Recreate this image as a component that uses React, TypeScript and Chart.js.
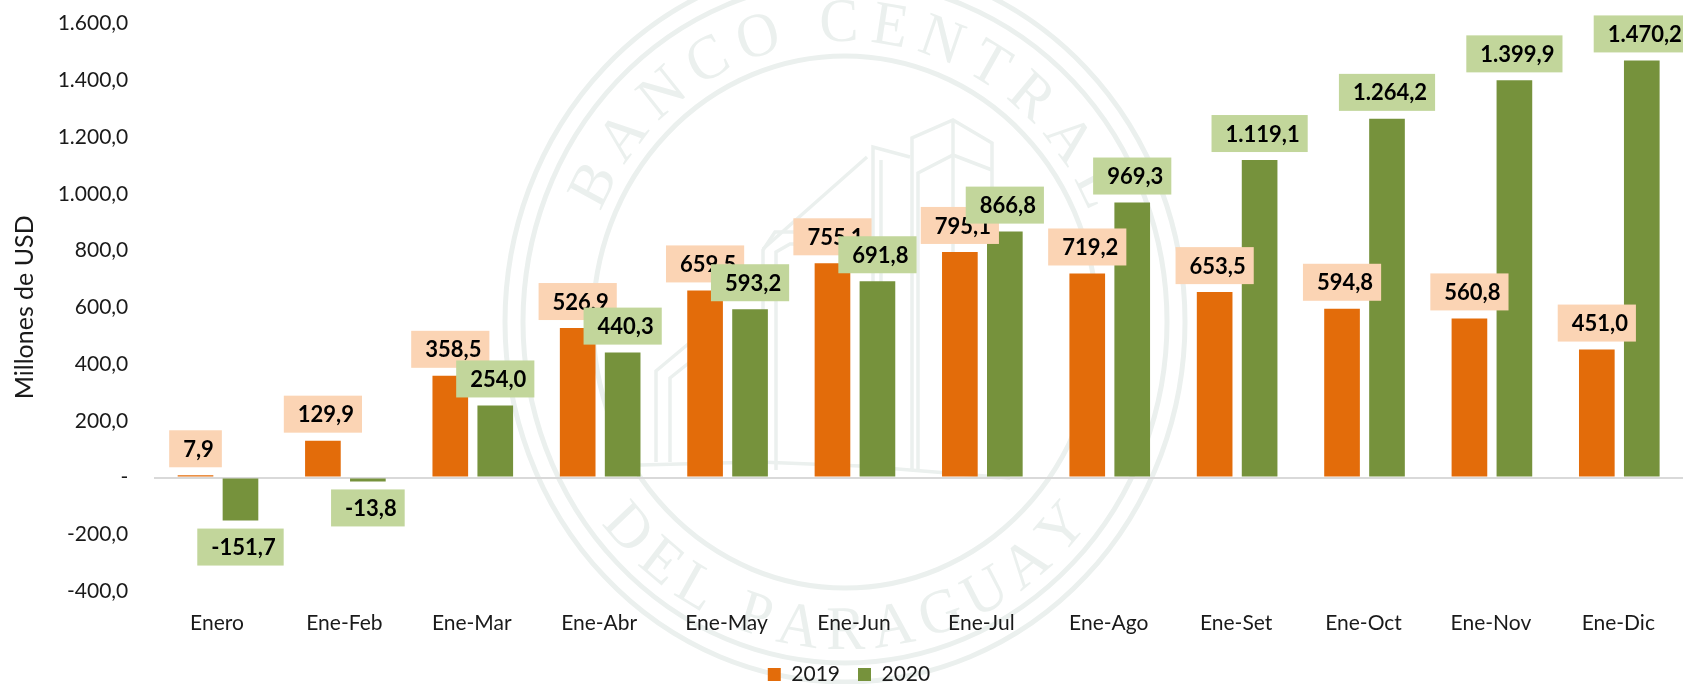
import React, { useEffect, useRef } from "react";
import { Chart, registerables } from "chart.js";

Chart.register(...registerables);

const categories = ["Enero", "Ene-Feb", "Ene-Mar", "Ene-Abr", "Ene-May", "Ene-Jun", "Ene-Jul", "Ene-Ago", "Ene-Set", "Ene-Oct", "Ene-Nov", "Ene-Dic"];
const values2019 = [7.9, 129.9, 358.5, 526.9, 659.5, 755.1, 795.1, 719.2, 653.5, 594.8, 560.8, 451.0];
const values2020 = [-151.7, -13.8, 254.0, 440.3, 593.2, 691.8, 866.8, 969.3, 1119.1, 1264.2, 1399.9, 1470.2];
const yTickLabels = ["-400,0", "-200,0", "-", "200,0", "400,0", "600,0", "800,0", "1.000,0", "1.200,0", "1.400,0", "1.600,0"];
const labelFills = ["#FBD4B4", "#C2D69B"];

const FONT = "Lato, 'Open Sans', sans-serif";
const INK = "#1a1a1a";

function fmt(v: number) {
  const [i, d] = Math.abs(v).toFixed(1).split(".");
  const int = i.replace(/\B(?=(\d{3})+$)/g, ".");
  return (v < 0 ? "-" : "") + int + "," + d;
}

function arcText(ctx: CanvasRenderingContext2D, text: string, radius: number, spanDeg: number, bottom: boolean) {
  const chars = text.split("");
  const widths = chars.map((c) => ctx.measureText(c).width);
  const total = widths.reduce((a, b) => a + b, 0);
  const span = (spanDeg * Math.PI) / 180;
  const extra = (span * radius - total) / (chars.length - 1);
  let pos = -(span * radius) / 2;
  chars.forEach((c, i) => {
    const a = (pos + widths[i] / 2) / radius;
    ctx.save();
    if (bottom) {
      ctx.rotate(-a);
      ctx.translate(0, radius);
    } else {
      ctx.rotate(a);
      ctx.translate(0, -radius);
    }
    ctx.textAlign = "center";
    ctx.textBaseline = "alphabetic";
    ctx.fillText(c, 0, 0);
    ctx.restore();
    pos += widths[i] + extra;
  });
}

const watermark = {
  id: "watermark",
  beforeDraw(chart: any) {
    const ctx: CanvasRenderingContext2D = chart.ctx;
    const color = "#EBF0EE";
    ctx.save();
    ctx.strokeStyle = color;
    ctx.fillStyle = color;
    ctx.lineWidth = 5;
    const cx = 845;
    const cy = 322;
    [
      [340, 360],
      [322, 341],
      [252, 266],
    ].forEach(([rx, ry]) => {
      ctx.beginPath();
      ctx.ellipse(cx, cy, rx, ry, 0, 0, Math.PI * 2);
      ctx.stroke();
    });
    ctx.save();
    ctx.translate(cx, cy);
    ctx.scale(0.945, 1);
    ctx.font = "62px 'Liberation Serif', serif";
    arcText(ctx, "BANCO CENTRAL", 281, 134, false);
    arcText(ctx, "DEL PARAGUAY", 327, 104, true);
    ctx.restore();

    ctx.lineWidth = 3.5;
    const paths: number[][][] = [
      [[912, 470], [912, 138], [953, 120], [992, 143], [992, 470]],
      [[918, 470], [918, 173], [953, 155], [992, 170]],
      [[953, 120], [953, 470]],
      [[873, 470], [873, 147], [910, 157]],
      [[881, 470], [881, 160]],
      [[867, 157], [763, 249]],
      [[763, 470], [763, 250], [775, 232], [830, 232]],
      [[776, 470], [776, 252], [790, 244], [830, 244]],
      [[656, 462], [656, 371], [687, 345], [720, 320]],
      [[670, 462], [670, 378], [690, 362]],
      [[640, 465], [760, 462], [860, 466], [1010, 478]],
    ];
    paths.forEach((p) => {
      ctx.beginPath();
      p.forEach(([x, y], i) => (i ? ctx.lineTo(x, y) : ctx.moveTo(x, y)));
      ctx.stroke();
    });
    ctx.restore();
  },
};

const boxLabels = {
  id: "boxLabels",
  afterDatasetsDraw(chart: any) {
    const ctx: CanvasRenderingContext2D = chart.ctx;
    const y0 = chart.scales.y.getPixelForValue(0);
    ctx.save();
    ctx.font = `bold 22px ${FONT}`;
    ctx.textAlign = "left";
    ctx.textBaseline = "middle";
    chart.data.datasets.forEach((ds: any, di: number) => {
      chart.getDatasetMeta(di).data.forEach((bar: any, i: number) => {
        const v = ds.data[i];
        const text = fmt(v);
        const w = ctx.measureText(text).width + 22;
        const h = 37;
        const gap = 8;
        const left = bar.x - w / 2;
        const top = bar.y <= y0 ? bar.y - gap - h : bar.y + gap;
        ctx.fillStyle = labelFills[di];
        ctx.fillRect(left, top, w, h);
        ctx.fillStyle = "#000";
        ctx.fillText(text, left + 14, top + h / 2 + 1);
      });
    });
    ctx.restore();
  },
};

export default function App() {
  const ref = useRef<HTMLCanvasElement>(null);
  useEffect(() => {
    document.body.style.margin = "0";
    const chart = new Chart(ref.current!, {
      type: "bar",
      data: {
        labels: categories,
        datasets: [
          { label: "2019", data: values2019, backgroundColor: "#E36C0A", categoryPercentage: 0.706, barPercentage: 0.793 },
          { label: "2020", data: values2020, backgroundColor: "#76923C", categoryPercentage: 0.706, barPercentage: 0.793 },
        ],
      },
      options: {
        responsive: false,
        animation: false,
        layout: { padding: { left: 15, top: 23.6, right: 0, bottom: -11 } },
        plugins: {
          tooltip: { enabled: false },
          legend: {
            position: "bottom",
            labels: { boxWidth: 13, boxHeight: 13, padding: 18, color: INK, font: { family: FONT, size: 21 } },
          },
        },
        scales: {
          x: {
            grid: { display: false },
            border: { display: false },
            ticks: { color: INK, font: { family: FONT, size: 21 }, padding: 12, autoSkip: false, maxRotation: 0, labelOffset: -1 },
            afterFit: (s: any) => {
              s.height = 55;
            },
          },
          y: {
            min: -400,
            max: 1600,
            grid: {
              drawTicks: true,
              tickLength: 26,
              tickColor: "rgba(0,0,0,0)",
              color: (c: any) => (c.tick && c.tick.value === 0 ? "#D9D9D9" : "rgba(0,0,0,0)"),
              lineWidth: 2,
            },
            border: { display: false },
            ticks: {
              stepSize: 200,
              autoSkip: false,
              color: INK,
              padding: 0,
              font: { family: FONT, size: 21 },
              callback: (v: any) => yTickLabels[(Number(v) + 400) / 200],
            },
            title: {
              display: true,
              text: "Millones de USD",
              color: INK,
              font: { family: FONT, size: 25 },
              padding: { top: -5, bottom: 0 },
            },
            afterFit: (s: any) => {
              s.width = 139.3;
            },
          },
        },
      },
      plugins: [watermark, boxLabels],
    } as any);
    return () => chart.destroy();
  }, []);
  return <canvas ref={ref} width={1683} height={684} style={{ position: "absolute", left: 0, top: 0, display: "block" }} />;
}
